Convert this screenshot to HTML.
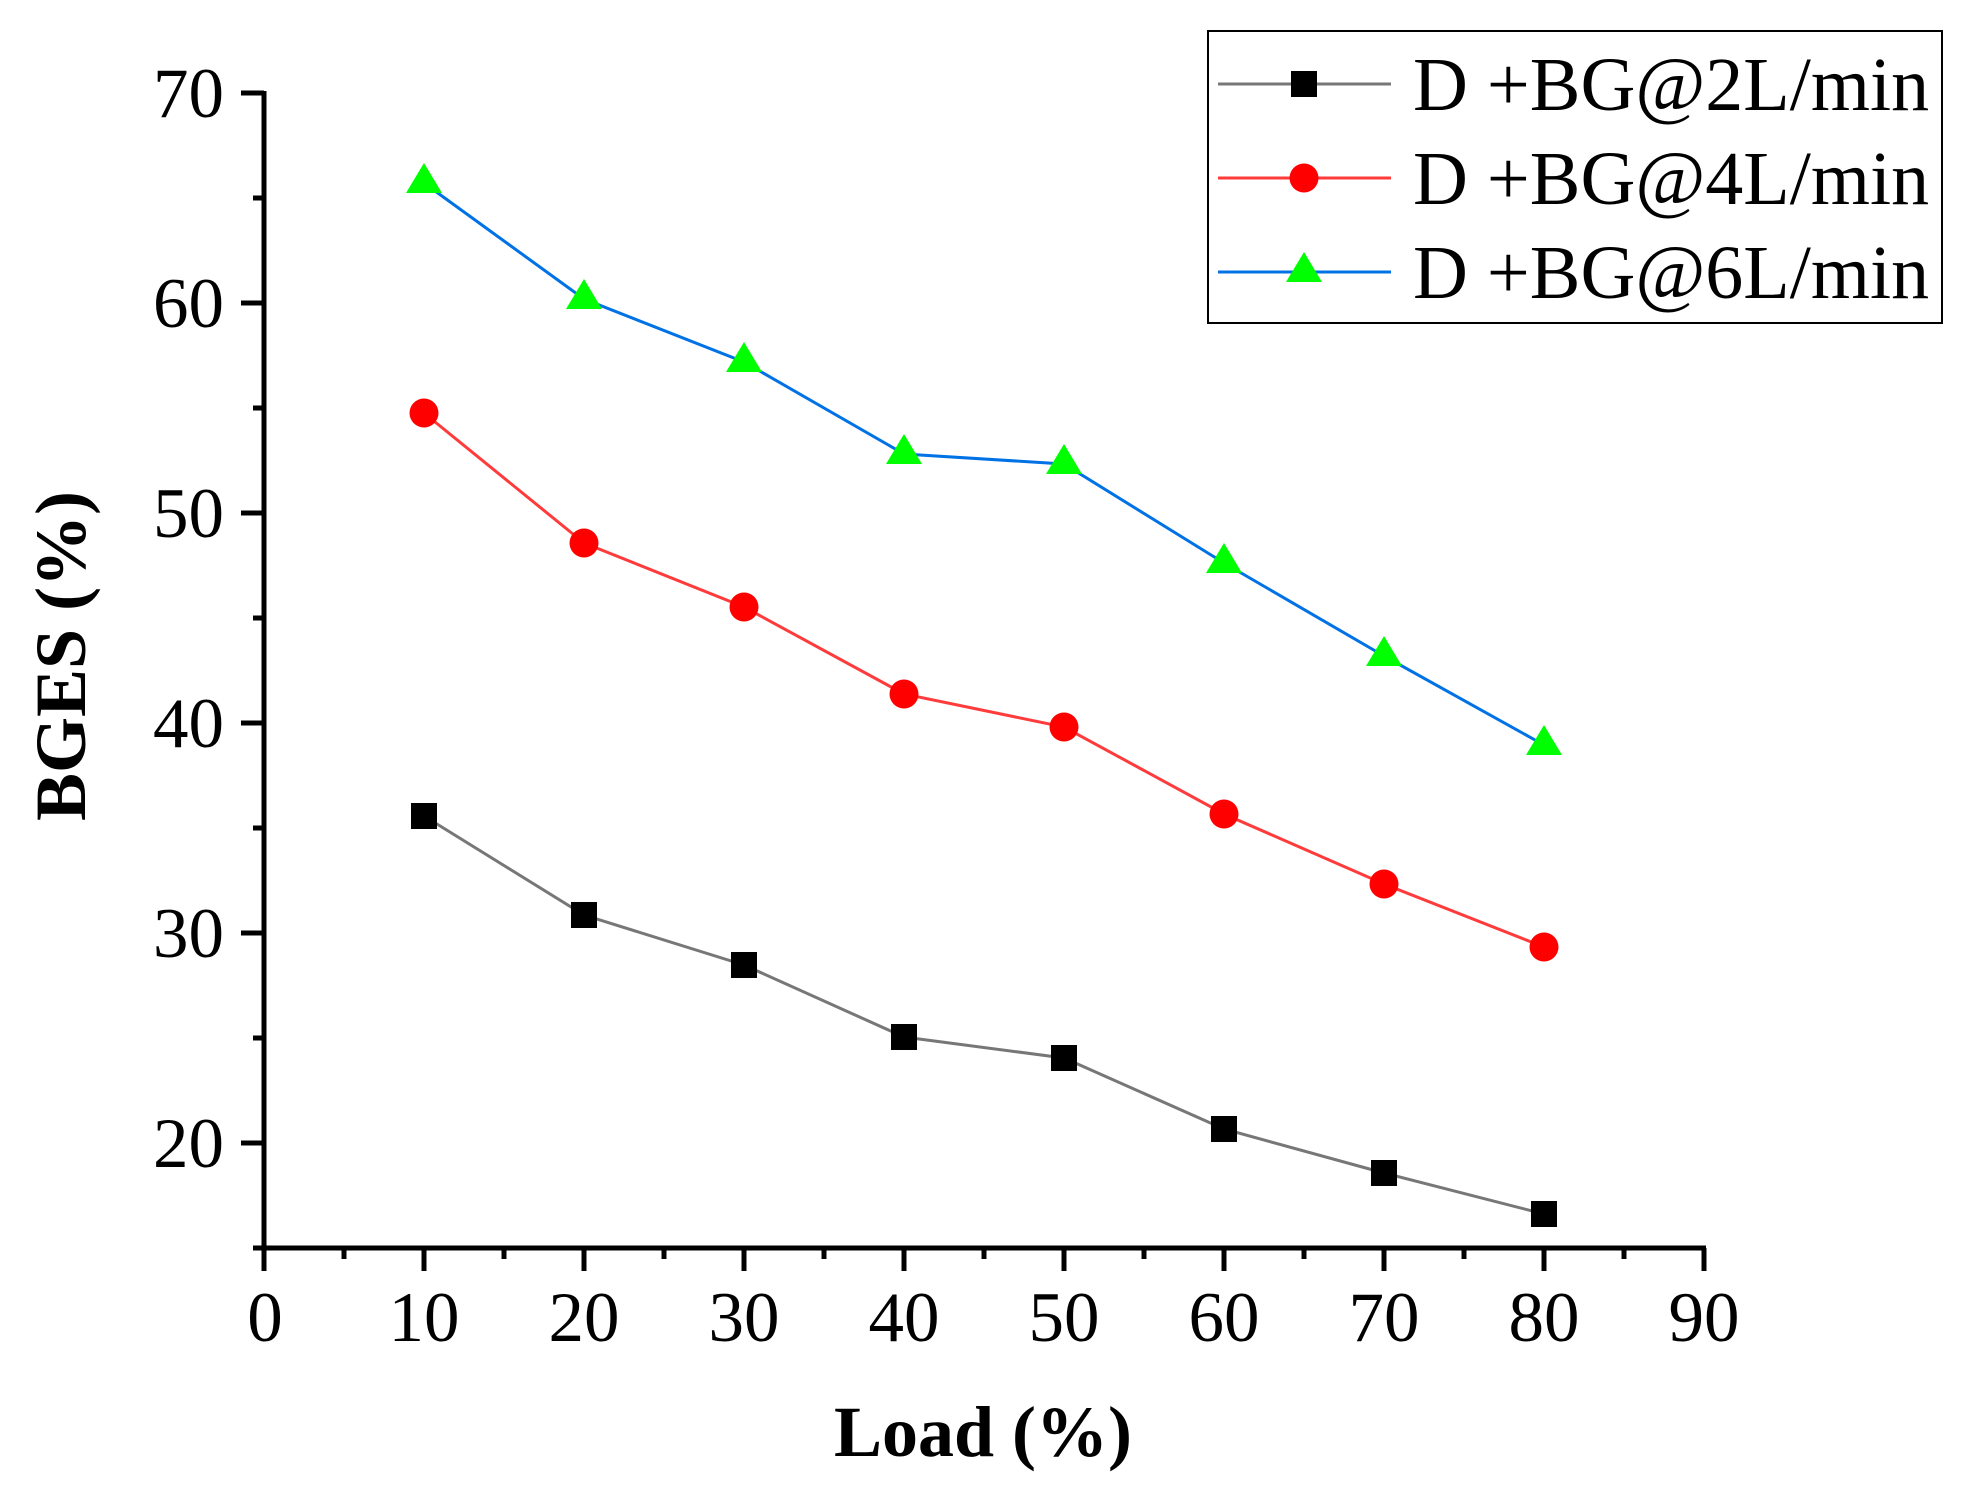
<!DOCTYPE html>
<html>
<head>
<meta charset="utf-8">
<style>
html,body{margin:0;padding:0;background:#fff;}
svg{display:block;}
text{font-family:"Liberation Serif","Times New Roman",serif;fill:#000;}
</style>
</head>
<body>
<svg width="1978" height="1497" viewBox="0 0 1978 1497" xmlns="http://www.w3.org/2000/svg">
<rect width="1978" height="1497" fill="#fff"/>

<!-- axes -->
<g stroke="#000" stroke-width="5" fill="none">
  <line x1="264" y1="91" x2="264" y2="1250"/>
  <line x1="253" y1="1248" x2="1706" y2="1248"/>
  <!-- y major ticks -->
  <line x1="241" y1="93" x2="264" y2="93"/>
  <line x1="241" y1="303" x2="264" y2="303"/>
  <line x1="241" y1="513" x2="264" y2="513"/>
  <line x1="241" y1="723" x2="264" y2="723"/>
  <line x1="241" y1="933" x2="264" y2="933"/>
  <line x1="241" y1="1143" x2="264" y2="1143"/>
  <!-- y minor ticks -->
  <line x1="253" y1="198" x2="264" y2="198"/>
  <line x1="253" y1="408" x2="264" y2="408"/>
  <line x1="253" y1="618" x2="264" y2="618"/>
  <line x1="253" y1="828" x2="264" y2="828"/>
  <line x1="253" y1="1038" x2="264" y2="1038"/>
  <!-- x major ticks -->
  <line x1="264" y1="1248" x2="264" y2="1271"/>
  <line x1="424" y1="1248" x2="424" y2="1271"/>
  <line x1="584" y1="1248" x2="584" y2="1271"/>
  <line x1="744" y1="1248" x2="744" y2="1271"/>
  <line x1="904" y1="1248" x2="904" y2="1271"/>
  <line x1="1064" y1="1248" x2="1064" y2="1271"/>
  <line x1="1224" y1="1248" x2="1224" y2="1271"/>
  <line x1="1384" y1="1248" x2="1384" y2="1271"/>
  <line x1="1544" y1="1248" x2="1544" y2="1271"/>
  <line x1="1704" y1="1248" x2="1704" y2="1271"/>
  <!-- x minor ticks -->
  <line x1="344" y1="1248" x2="344" y2="1259"/>
  <line x1="504" y1="1248" x2="504" y2="1259"/>
  <line x1="664" y1="1248" x2="664" y2="1259"/>
  <line x1="824" y1="1248" x2="824" y2="1259"/>
  <line x1="984" y1="1248" x2="984" y2="1259"/>
  <line x1="1144" y1="1248" x2="1144" y2="1259"/>
  <line x1="1304" y1="1248" x2="1304" y2="1259"/>
  <line x1="1464" y1="1248" x2="1464" y2="1259"/>
  <line x1="1624" y1="1248" x2="1624" y2="1259"/>
</g>

<!-- y tick labels -->
<g font-size="71" text-anchor="end">
  <text x="224" y="117">70</text>
  <text x="224" y="327">60</text>
  <text x="224" y="537">50</text>
  <text x="224" y="747">40</text>
  <text x="224" y="957">30</text>
  <text x="224" y="1167">20</text>
</g>

<!-- x tick labels -->
<g font-size="71" text-anchor="middle">
  <text x="265" y="1341">0</text>
  <text x="424" y="1341">10</text>
  <text x="584" y="1341">20</text>
  <text x="744" y="1341">30</text>
  <text x="904" y="1341">40</text>
  <text x="1064" y="1341">50</text>
  <text x="1224" y="1341">60</text>
  <text x="1384" y="1341">70</text>
  <text x="1544" y="1341">80</text>
  <text x="1704" y="1341">90</text>
</g>

<!-- axis titles -->
<text x="983" y="1456" font-size="72" font-weight="bold" text-anchor="middle">Load (%)</text>
<text x="0" y="0" font-size="72" font-weight="bold" text-anchor="middle" transform="translate(85,656) rotate(-90)">BGES (%)</text>

<!-- series lines -->
<polyline fill="none" stroke="#777777" stroke-width="3" points="424,816 584,915 744,965 904,1037 1064,1058 1224,1129 1384,1173 1544,1214"/>
<polyline fill="none" stroke="#ff3b3b" stroke-width="3" points="424,413 584,543 744,607 904,694 1064,727 1224,814 1384,884 1544,947"/>
<polyline fill="none" stroke="#0072e6" stroke-width="3" points="424,183 584,299 744,362 904,454 1064,464 1224,563 1384,656 1544,745"/>

<!-- black squares -->
<g fill="#000">
  <rect x="411" y="803" width="26" height="26"/>
  <rect x="571" y="902" width="26" height="26"/>
  <rect x="731" y="952" width="26" height="26"/>
  <rect x="891" y="1024" width="26" height="26"/>
  <rect x="1051" y="1045" width="26" height="26"/>
  <rect x="1211" y="1116" width="26" height="26"/>
  <rect x="1371" y="1160" width="26" height="26"/>
  <rect x="1531" y="1201" width="26" height="26"/>
</g>

<!-- red circles -->
<g fill="#ff0000">
  <circle cx="424" cy="413" r="14.5"/>
  <circle cx="584" cy="543" r="14.5"/>
  <circle cx="744" cy="607" r="14.5"/>
  <circle cx="904" cy="694" r="14.5"/>
  <circle cx="1064" cy="727" r="14.5"/>
  <circle cx="1224" cy="814" r="14.5"/>
  <circle cx="1384" cy="884" r="14.5"/>
  <circle cx="1544" cy="947" r="14.5"/>
</g>

<!-- green triangles (centroid at point) -->
<g fill="#00ff00">
  <polygon points="424,163 442,193 406,193"/>
  <polygon points="584,279 602,309 566,309"/>
  <polygon points="744,342 762,372 726,372"/>
  <polygon points="904,434 922,464 886,464"/>
  <polygon points="1064,444 1082,474 1046,474"/>
  <polygon points="1224,543 1242,573 1206,573"/>
  <polygon points="1384,636 1402,666 1366,666"/>
  <polygon points="1544,725 1562,755 1526,755"/>
</g>

<!-- legend -->
<rect x="1208" y="31" width="734" height="292" fill="#fff" stroke="#000" stroke-width="2"/>
<line x1="1218" y1="84" x2="1391" y2="84" stroke="#777777" stroke-width="3"/>
<rect x="1291" y="71" width="26" height="26" fill="#000"/>
<line x1="1218" y1="178" x2="1391" y2="178" stroke="#ff3b3b" stroke-width="3"/>
<circle cx="1304" cy="178" r="14.5" fill="#ff0000"/>
<line x1="1218" y1="272" x2="1391" y2="272" stroke="#0072e6" stroke-width="3"/>
<polygon points="1304,252 1322,282 1286,282" fill="#00ff00"/>
<g font-size="76">
  <text x="1413" y="110">D +BG@2L/min</text>
  <text x="1413" y="204">D +BG@4L/min</text>
  <text x="1413" y="298">D +BG@6L/min</text>
</g>
</svg>
</body>
</html>
